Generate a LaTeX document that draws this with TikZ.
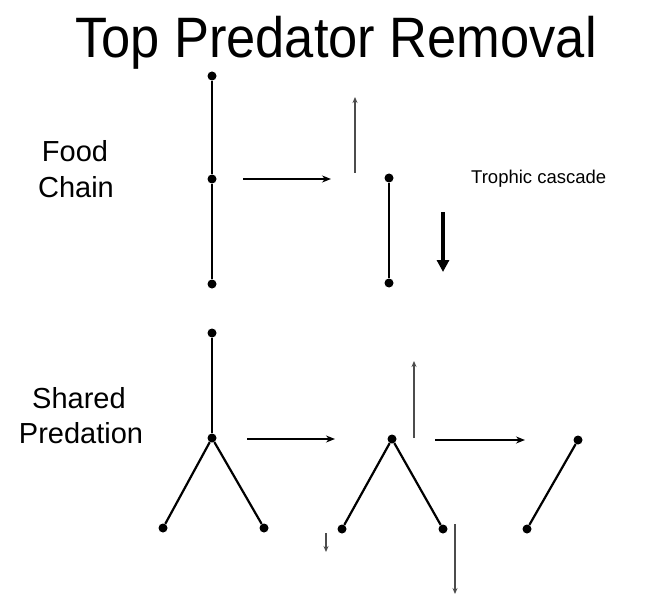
\documentclass[tikz,border=0pt]{standalone}
\usepackage{fontspec}
\setmainfont{Liberation Sans}
\usetikzlibrary{arrows.meta}
\begin{document}
\begin{tikzpicture}[x=1pt,y=-1pt,
 dot/.style={circle,fill=black,inner sep=0pt,minimum size=9pt},
 link/.style={line width=2.2pt},
 movearrow/.style={line width=1.5pt,-{Stealth[length=9pt,width=7pt]}},
 faintarrow/.style={line width=1.3pt,black!70,-{Stealth[length=6pt,width=5pt]}},
 thickarrow/.style={line width=4pt,-{Triangle[length=12pt,width=12pt]}},
 lbl/.style={anchor=base,inner sep=0pt}]
\useasboundingbox (0,0) rectangle (650,596);
% title and labels
\node[lbl] (title) at (336,58) {\fontsize{57}{57}\selectfont\scalebox{0.92}[1]{Top Predator Removal}};
\node[lbl] (food) at (75,162) {\fontsize{29}{29}\selectfont Food};
\node[lbl] (chain) at (76,197) {\fontsize{29}{29}\selectfont Chain};
\node[lbl] (shared) at (79,408) {\fontsize{29}{29}\selectfont Shared};
\node[lbl] (predation) at (81,443) {\fontsize{29}{29}\selectfont Predation};
\node[lbl,anchor=base west] (cascade) at (471,183) {\fontsize{18.5}{18.5}\selectfont Trophic cascade};
% food chain
\node[dot] (a1) at (212,76) {};
\node[dot] (a2) at (212,179) {};
\node[dot] (a3) at (212,284) {};
\draw[link] (a1) -- (a2) -- (a3);
\coordinate (f1s) at (243,179);
\coordinate (f1e) at (331,179);
\draw[movearrow] (f1s) -- (f1e);
\coordinate (u1s) at (355,173);
\coordinate (u1e) at (355,97);
\draw[faintarrow] (u1s) -- (u1e);
\node[dot] (b1) at (389,178) {};
\node[dot] (b2) at (389,283) {};
\draw[link] (b1) -- (b2);
\coordinate (t1s) at (443,212);
\coordinate (t1e) at (443,272);
\draw[thickarrow] (t1s) -- (t1e);
% shared predation
\node[dot] (c1) at (212,333) {};
\node[dot] (c2) at (212,438) {};
\node[dot] (c3) at (163,528) {};
\node[dot] (c4) at (264,528) {};
\draw[link] (c1) -- (c2);
\draw[link] (c2) -- (c3);
\draw[link] (c2) -- (c4);
\coordinate (f2s) at (247,439);
\coordinate (f2e) at (335,439);
\draw[movearrow] (f2s) -- (f2e);
\node[dot] (d1) at (392,439) {};
\node[dot] (d2) at (342,529) {};
\node[dot] (d3) at (443,529) {};
\draw[link] (d1) -- (d2);
\draw[link] (d1) -- (d3);
\coordinate (u2s) at (414,438);
\coordinate (u2e) at (414,361);
\draw[faintarrow] (u2s) -- (u2e);
\coordinate (s1s) at (326,533);
\coordinate (s1e) at (326,552);
\draw[faintarrow] (s1s) -- (s1e);
\coordinate (s2s) at (455,524);
\coordinate (s2e) at (455,594);
\draw[faintarrow] (s2s) -- (s2e);
\coordinate (f3s) at (435,440);
\coordinate (f3e) at (525,440);
\draw[movearrow] (f3s) -- (f3e);
\node[dot] (e1) at (578,440) {};
\node[dot] (e2) at (527,529) {};
\draw[link] (e1) -- (e2);
\end{tikzpicture}
\end{document}
